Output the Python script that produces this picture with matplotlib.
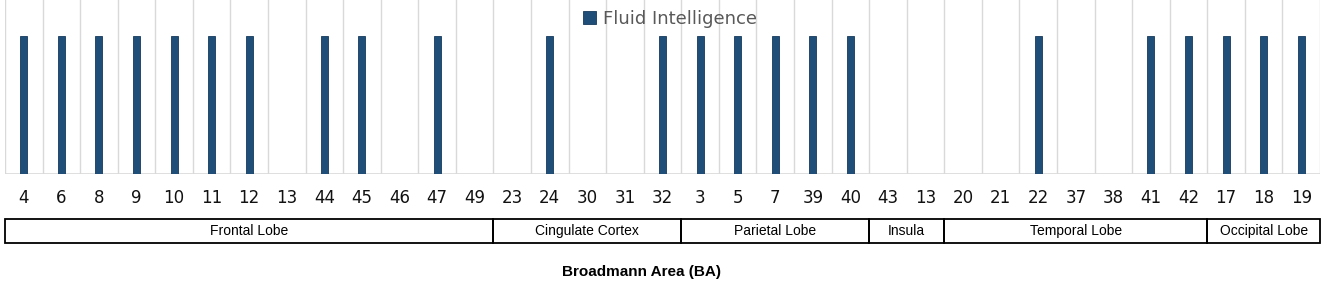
import matplotlib
matplotlib.use('Agg')
import matplotlib.pyplot as plt
import matplotlib.transforms as mtransforms
from matplotlib.patches import Rectangle
import numpy as np

areas = ['4', '6', '8', '9', '10', '11', '12', '13', '44', '45', '46', '47', '49',
         '23', '24', '30', '31', '32',
         '3', '5', '7', '39', '40',
         '43', '13',
         '20', '21', '22', '37', '38', '41', '42',
         '17', '18', '19']
fluid = [1, 1, 1, 1, 1, 1, 1, 0, 1, 1, 0, 1, 0,
         0, 1, 0, 0, 1,
         1, 1, 1, 1, 1,
         0, 0,
         0, 0, 1, 0, 0, 1, 1,
         1, 1, 1]
lobes = ['Frontal Lobe', 'Cingulate Cortex', 'Parietal Lobe', 'Insula', 'Temporal Lobe', 'Occipital Lobe']
lobe_sizes = [13, 5, 5, 2, 7, 3]

W, H = 1325, 290
fig = plt.figure(figsize=(W / 100, H / 100), dpi=100)
ax = fig.add_axes([5 / W, 1 - 174 / H, 1315 / W, 174 / H])
x = np.arange(len(areas))
ax.bar(x, fluid, width=0.19, color='#1f4e79', edgecolor='#163a5c', linewidth=0.6,
       label='Fluid Intelligence', zorder=3)
ax.set_xlim(-0.5, len(areas) - 0.5)
ax.set_ylim(0, 1.26)
for b in np.arange(len(areas) + 1) - 0.5:
    ax.axvline(b, color='#d9d9d9', lw=1, zorder=1)
ax.axhline(0, color='#d9d9d9', lw=1.2, zorder=2)
for s in ax.spines.values():
    s.set_visible(False)
ax.set_yticks([])
ax.set_xticks(x, areas, fontsize=12, family='DejaVu Sans', color='#111111')
ax.tick_params(axis='x', length=0, pad=11)

# lobe boxes below the tick labels
tr = mtransforms.blended_transform_factory(ax.transData, fig.transFigure)
y0, y1 = 1 - 243 / H, 1 - 219 / H
start = -0.5
for name, n in zip(lobes, lobe_sizes):
    ax.add_patch(Rectangle((start, y0), n, y1 - y0, transform=tr, fill=False,
                           edgecolor='black', lw=1.3, clip_on=False))
    ax.text(start + n / 2, (y0 + y1) / 2, name, transform=tr, ha='center', va='center',
            fontsize=10, family=['Liberation Sans Narrow', 'Liberation Sans'], color='black')
    start += n

fig.text(642 / W, 1 - 272 / H, 'Broadmann Area (BA)', ha='center', va='center',
         fontsize=11, fontweight='bold', family='Liberation Sans')

leg = ax.legend(loc='center', bbox_to_anchor=(670 / W, 1 - 19 / H), bbox_transform=fig.transFigure,
                frameon=False, fontsize=13, handlelength=0.7, handleheight=0.7, handletextpad=0.4,
                borderpad=0)
for t in leg.get_texts():
    t.set_color('#595959')

fig.savefig('out.png', dpi=100)
